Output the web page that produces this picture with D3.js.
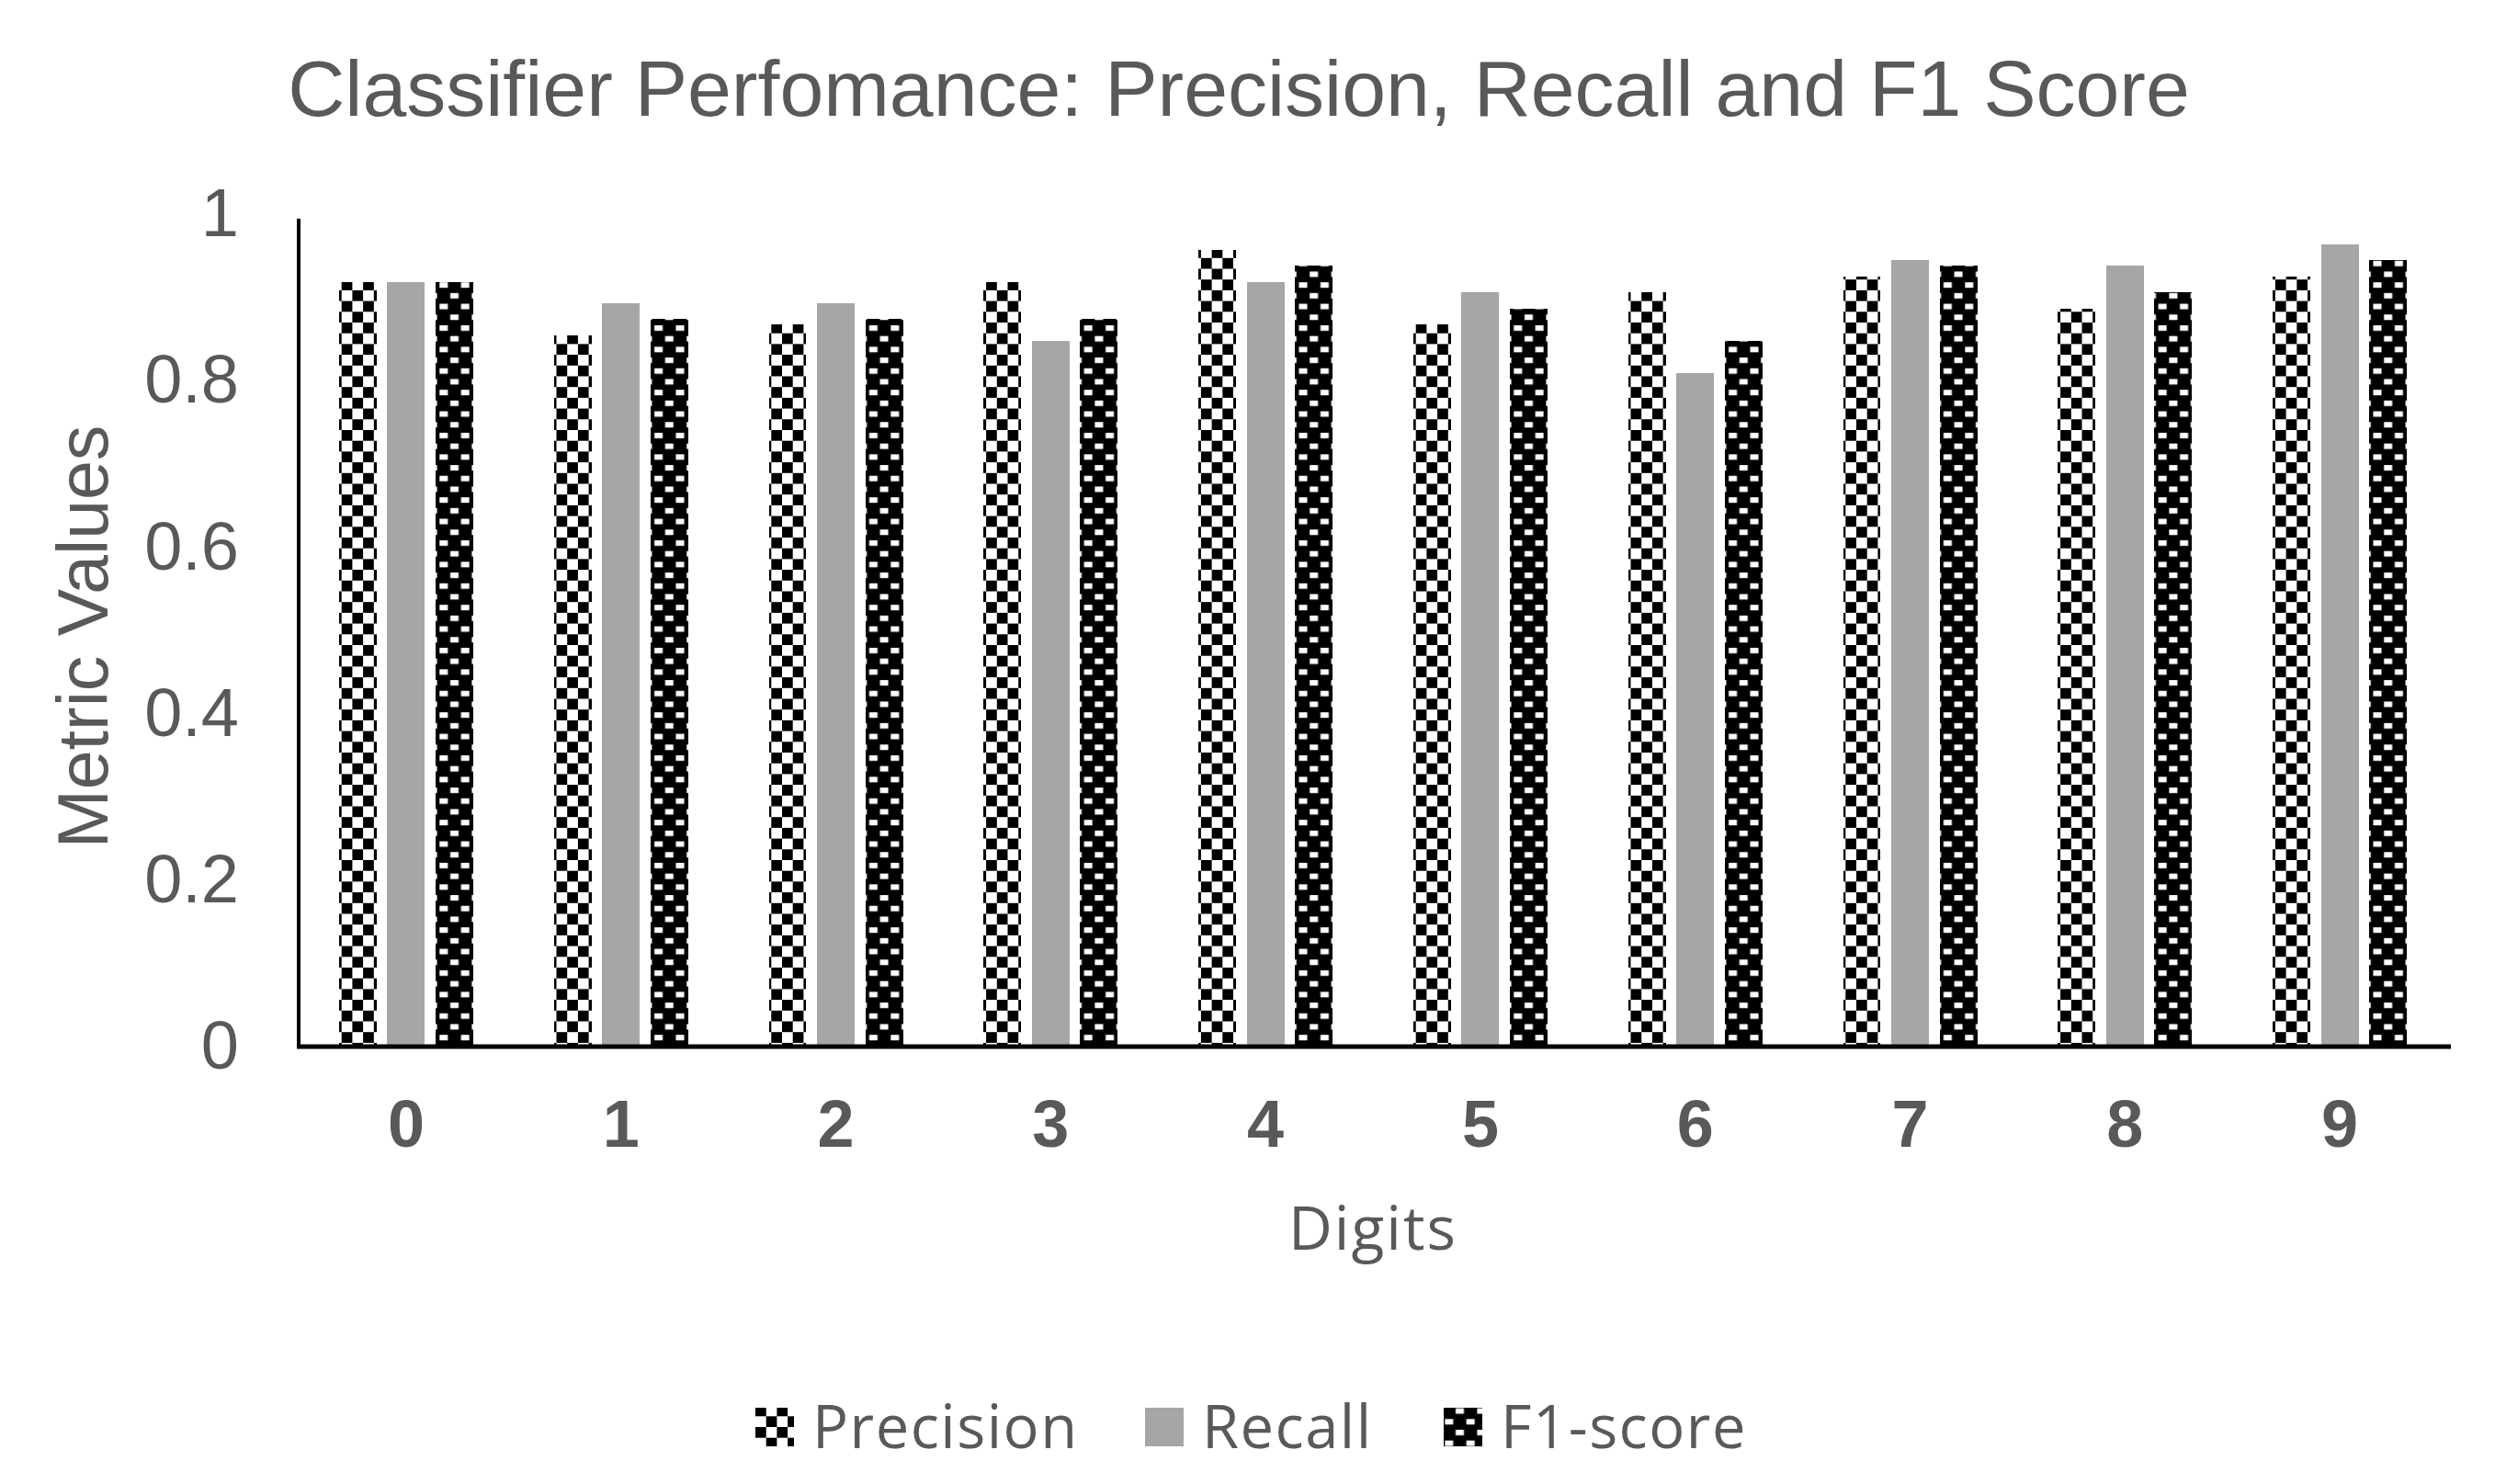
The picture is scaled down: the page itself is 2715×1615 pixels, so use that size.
<!DOCTYPE html>
<html>
<head>
<meta charset="utf-8">
<script src="https://cdn.jsdelivr.net/npm/d3@7/dist/d3.min.js"></script>
<style>
    html, body { margin: 0; padding: 0; background: #ffffff; }
    svg { display: block; }
    .axis-text { fill: #595959; font-family: 'Liberation Sans', Arial, sans-serif; }
    .soft-text { fill: #595959; font-family: 'Open Sans', 'Noto Sans', sans-serif; }
</style>
</head>
<body>
<div id="chart"></div>
<script>
const digits = ['0', '1', '2', '3', '4', '5', '6', '7', '8', '9'];
const seriesNames = ['Precision', 'Recall', 'F1-score'];
const precision = [0.918, 0.854, 0.868, 0.918, 0.957, 0.868, 0.906, 0.925, 0.886, 0.925];
const recall = [0.918, 0.893, 0.893, 0.848, 0.918, 0.906, 0.809, 0.945, 0.938, 0.964];
const f1Score = [0.918, 0.874, 0.874, 0.874, 0.938, 0.886, 0.848, 0.938, 0.906, 0.945];
const yTicks = [0, 0.2, 0.4, 0.6, 0.8, 1];

const width = 2715;
const height = 1615;
const margin = {top: 233, right: 52, bottom: 476, left: 325};

let svg;
let xScale;
let seriesScale;
let yScale;

function initSvg(){
    svg = d3.select('#chart')
        .append('svg')
        .attr('width', width)
        .attr('height', height);

    let defs = svg.append('defs');

    // checkerboard for precision
    let checker = defs.append('pattern')
        .attr('id', 'pat-precision')
        .attr('patternUnits', 'userSpaceOnUse')
        .attr('width', 23.4)
        .attr('height', 23.4);
    checker.append('rect').attr('width', 23.4).attr('height', 23.4).attr('fill', '#ffffff');
    checker.append('rect').attr('width', 11.7).attr('height', 11.7).attr('fill', '#000000');
    checker.append('rect').attr('x', 11.7).attr('y', 11.7).attr('width', 11.7).attr('height', 11.7).attr('fill', '#000000');

    // mostly black with small white dashes for f1
    let dashes = defs.append('pattern')
        .attr('id', 'pat-f1')
        .attr('patternUnits', 'userSpaceOnUse')
        .attr('width', 23.4)
        .attr('height', 23.4);
    dashes.append('rect').attr('width', 23.4).attr('height', 23.4).attr('fill', '#000000');
    dashes.append('rect').attr('x', 13).attr('y', 3).attr('width', 9).attr('height', 6).attr('fill', '#ffffff');
    dashes.append('rect').attr('x', 1.3).attr('y', 14.7).attr('width', 9).attr('height', 6).attr('fill', '#ffffff');
}

function drawChart(){
    let plotW = width - margin.left - margin.right;
    let y0 = height - margin.bottom;

    xScale = d3.scaleBand().domain(digits).range([margin.left, margin.left + plotW]).padding(0);
    seriesScale = d3.scaleBand().domain(seriesNames).range([-73, 73]).paddingInner(0.22);
    yScale = d3.scaleLinear().domain([0, 1]).range([y0, margin.top]);

    let fills = {
        'Precision': 'url(#pat-precision)',
        'Recall': '#a6a6a6',
        'F1-score': 'url(#pat-f1)'
    };
    let seriesValues = {
        'Precision': precision,
        'Recall': recall,
        'F1-score': f1Score
    };

    let rows = digits.map((d, i) => ({
        digit: d,
        values: seriesNames.map(s => ({series: s, value: seriesValues[s][i]}))
    }));

    let groups = svg.selectAll('.group')
        .data(rows)
        .enter().append('g')
        .attr('class', 'group')
        .attr('transform', d => 'translate(' + (xScale(d.digit) + xScale.bandwidth() / 2) + ',0)');

    groups.selectAll('.bar')
        .data(d => d.values)
        .enter().append('rect')
        .attr('class', 'bar')
        .attr('x', d => seriesScale(d.series))
        .attr('y', d => yScale(d.value))
        .attr('width', seriesScale.bandwidth())
        .attr('height', d => y0 - yScale(d.value))
        .attr('fill', d => fills[d.series])
        .attr('shape-rendering', 'crispEdges');

    // y axis
    let yAxis = d3.axisLeft(yScale).tickValues(yTicks).tickSize(0).tickPadding(65)
        .tickFormat(d => d3.format('')(d));
    let yG = svg.append('g')
        .attr('transform', 'translate(' + margin.left + ',0)')
        .call(yAxis);
    yG.select('.domain').attr('stroke', '#000000').attr('stroke-width', 4)
        .attr('d', 'M0,' + (margin.top + 5) + 'V' + y0);
    yG.selectAll('text')
        .attr('class', 'axis-text')
        .attr('font-size', 74)
        .attr('fill', '#595959');

    // x axis
    let xAxis = d3.axisBottom(xScale).tickSize(0).tickPadding(58);
    let xG = svg.append('g')
        .attr('transform', 'translate(0,' + y0 + ')')
        .call(xAxis);
    xG.select('.domain').attr('stroke', '#000000').attr('stroke-width', 5)
        .attr('d', 'M' + (margin.left - 2) + ',0H' + (margin.left + plotW + 4));
    xG.selectAll('text')
        .attr('class', 'axis-text')
        .attr('font-size', 72)
        .attr('font-weight', 'bold')
        .attr('fill', '#595959');

    // titles
    svg.append('text')
        .attr('class', 'axis-text')
        .attr('x', 1348)
        .attr('y', 126)
        .attr('text-anchor', 'middle')
        .attr('font-size', 86)
        .text('Classifier Perfomance: Precision, Recall and F1 Score');

    svg.append('text')
        .attr('class', 'soft-text')
        .attr('x', 1494)
        .attr('y', 1360)
        .attr('text-anchor', 'middle')
        .attr('font-size', 66)
        .attr('letter-spacing', 2)
        .text('Digits');

    svg.append('text')
        .attr('class', 'axis-text')
        .attr('transform', 'translate(117,' + 693 + ')rotate(-90)')
        .attr('text-anchor', 'middle')
        .attr('font-size', 77)
        .text('Metric Values');

    drawLegend(fills);
}

function drawLegend(fills){
    let legendY = 1553;
    let boxSize = 42;
    let startX = [822, 1246, 1571];

    let items = svg.selectAll('.legend-item')
        .data(seriesNames)
        .enter().append('g')
        .attr('class', 'legend-item')
        .attr('transform', (d, i) => 'translate(' + startX[i] + ',' + legendY + ')');

    items.append('rect')
        .attr('y', -boxSize / 2)
        .attr('width', boxSize)
        .attr('height', boxSize)
        .attr('fill', d => fills[d])
        .attr('shape-rendering', 'crispEdges');

    items.append('text')
        .attr('class', 'soft-text')
        .attr('x', boxSize + 20)
        .attr('y', 23)
        .attr('font-size', 65)
        .attr('letter-spacing', 1.5)
        .text(d => d);
}

initSvg();
drawChart();
</script>
</body>
</html>
